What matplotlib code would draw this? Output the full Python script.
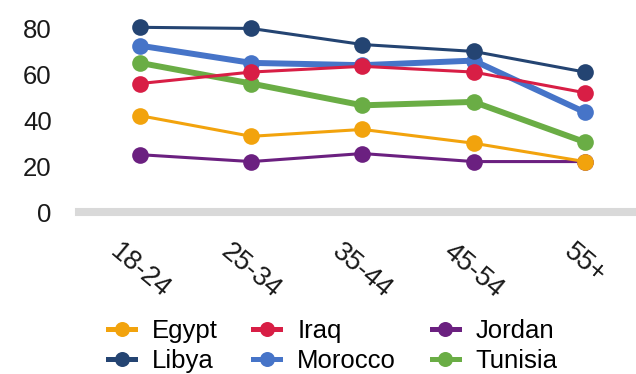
import matplotlib
matplotlib.use("Agg")
import matplotlib.pyplot as plt
from matplotlib.lines import Line2D

age_groups = ["18-24", "25-34", "35-44", "45-54", "55+"]

egypt = [42, 33, 36, 30, 22]
iraq = [56, 61, 63.5, 61, 52]
jordan = [25, 22, 25.5, 22, 22]
libya = [80.5, 80, 73, 70, 61]
morocco = [72.5, 65, 64, 66, 43.5]
tunisia = [65, 56, 46.5, 48, 30.5]

y_ticks = [0, 20, 40, 60, 80]

plt.rcParams["font.family"] = ["Liberation Sans", "DejaVu Sans"]

fig = plt.figure(figsize=(6.36, 3.74), dpi=100)
ax = fig.add_axes([0.124, 0.433, 0.876, 0.540])

x = list(range(len(age_groups)))

colors = {
    "Egypt": "#f2a30d",
    "Iraq": "#d81e45",
    "Jordan": "#6b2080",
    "Libya": "#244472",
    "Morocco": "#4674c8",
    "Tunisia": "#6aad45",
}

series = [
    ("Tunisia", tunisia, 4.3),
    ("Morocco", morocco, 4.3),
    ("Jordan", jordan, 2.2),
    ("Iraq", iraq, 2.2),
    ("Libya", libya, 2.2),
    ("Egypt", egypt, 2.2),
]
for name, vals, lw in series:
    ax.plot(x, vals, color=colors[name], lw=lw, marker="o", markersize=12,
            markeredgewidth=0, zorder=3, clip_on=False)

ax.axhline(0, color="#d9d9d9", lw=5.8, zorder=1, clip_on=False)

ax.set_xlim(-0.55, 4.46)
ax.set_ylim(0, 88)
ax.set_yticks(y_ticks)
ax.set_xticks(x)
ax.set_xticklabels(age_groups, rotation=-40, ha="center", va="top",
                   fontsize=19.5, color="#1a1a1a")
ax.tick_params(axis="y", length=0, pad=19.5, labelsize=18.5, labelcolor="#1a1a1a")
ax.tick_params(axis="x", length=0, pad=19)
for sp in ax.spines.values():
    sp.set_visible(False)

order = ["Egypt", "Libya", "Iraq", "Morocco", "Jordan", "Tunisia"]
proxies = [Line2D([], [], color=colors[n], lw=3.6, marker="o", markersize=10.8,
                  markeredgewidth=0) for n in order]
fig.legend(proxies, order, ncol=3, loc="upper left",
           bbox_to_anchor=(0.170, 0.146), frameon=False, fontsize=18.5,
           handlelength=1.05, handletextpad=0.66, columnspacing=1.38,
           labelspacing=0.2, borderpad=0, borderaxespad=0)

fig.savefig("out.png", dpi=100)
